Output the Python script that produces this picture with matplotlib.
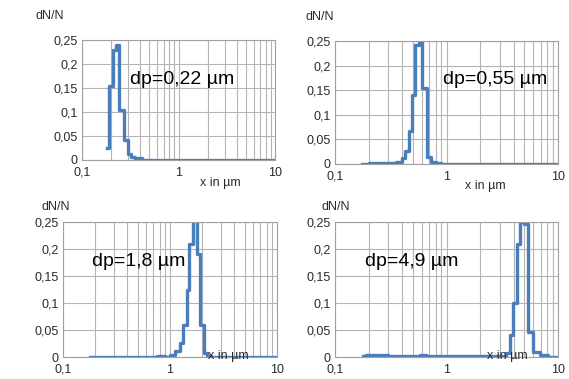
import matplotlib
matplotlib.use("Agg")
import matplotlib.pyplot as plt
from matplotlib.ticker import NullFormatter, LogLocator

plt.rcParams['font.family'] = ['Liberation Sans', 'DejaVu Sans']

# step distributions, x = lower bin edge in um, y = dN/N
x_022 = [0.183, 0.192, 0.208, 0.223, 0.242, 0.274, 0.298, 0.32, 0.35, 0.38, 0.42, 0.5, 10]
y_022 = [0.025, 0.155, 0.23, 0.24, 0.105, 0.042, 0.012, 0.006, 0.002, 0.004, 0.001, 0.0, 0.0]

x_055 = [0.176, 0.2, 0.35, 0.400, 0.422, 0.457, 0.491, 0.517, 0.561, 0.602, 0.667, 0.72, 0.8, 0.9, 10]
y_055 = [0.001, 0.003, 0.005, 0.012, 0.027, 0.067, 0.141, 0.242, 0.27, 0.155, 0.014, 0.005, 0.002, 0.0, 0.0]

x_18 = [0.18, 0.75, 0.9, 1.0, 1.11, 1.24, 1.33, 1.43, 1.52, 1.65, 1.77, 1.91, 2.06, 2.2, 2.4, 10]
y_18 = [0.0, 0.002, 0.0, 0.004, 0.012, 0.026, 0.06, 0.125, 0.21, 0.28, 0.19, 0.06, 0.008, 0.002, 0.0, 0.0]

x_49 = [0.178, 0.19, 0.3, 0.58, 0.65, 3.45, 3.69, 3.95, 4.29, 4.6, 5.0, 5.38, 5.96, 6.84, 8.07, 10]
y_49 = [0.001, 0.003, 0.001, 0.003, 0.001, 0.008, 0.04, 0.10, 0.21, 0.25, 0.247, 0.047, 0.01, 0.003, 0.0, 0.0]

labels = ["dp=0,22 µm", "dp=0,55 µm", "dp=1,8 µm", "dp=4,9 µm"]
yticks = [0, 0.05, 0.1, 0.15, 0.2, 0.25]
yticklabels = ["0", "0,05", "0,1", "0,15", "0,2", "0,25"]
xticks = [0.1, 1, 10]
xticklabels = ["0,1", "1", "10"]

W, H = 569, 379
fig = plt.figure(figsize=(W / 100, H / 100), dpi=100)

def px_axes(left, right, top, bottom):
    return fig.add_axes([left / W, 1 - bottom / H, (right - left) / W, (bottom - top) / H])

# panel boxes in pixels (left, right, top, bottom)
boxes = [(82, 275, 40, 160), (335, 558, 41, 164), (63, 277, 222, 357), (335, 558, 222, 357)]
series = [(x_022, y_022), (x_055, y_055), (x_18, y_18), (x_49, y_49)]
text_pos = [(0.249, 0.667), (0.486, 0.683), (0.134, 0.707), (0.135, 0.707)]
dn_pos = [(36, 16), (306, 17), (42, 207), (322, 207)]
xlab_pos = [(200, 183), (465, 186), (208, 356), (487, 356)]

grid_col = '#b4b4b4'
line_col = '#4a7ebb'

for i in range(4):
    ax = px_axes(*boxes[i])
    xs, ys = series[i]
    ax.plot(xs, ys, drawstyle='steps-post', color=line_col, lw=2.4, solid_joinstyle='round')
    ax.set_xscale('log')
    ax.set_xlim(0.1, 10)
    ax.set_ylim(0, 0.25)
    ax.set_xticks(xticks, labels=xticklabels)
    ax.xaxis.set_minor_locator(LogLocator(base=10, subs=range(2, 10)))
    ax.xaxis.set_minor_formatter(NullFormatter())
    ax.set_yticks(yticks, labels=yticklabels)
    ax.tick_params(which='both', length=0, labelsize=9, colors='#2b2b2b')
    ax.tick_params(axis='x', pad=5)
    ax.tick_params(axis='y', pad=3)
    ax.grid(which='both', axis='x', color=grid_col, lw=0.8)
    ax.grid(which='major', axis='y', color=grid_col, lw=0.8)
    ax.set_axisbelow(True)
    for s in ax.spines.values():
        s.set_color('#a0a0a0')
        s.set_linewidth(0.8)
    ax.text(text_pos[i][0], text_pos[i][1], labels[i], transform=ax.transAxes,
            ha='left', va='center', fontsize=14, color='black')

    fig.text(dn_pos[i][0] / W, 1 - dn_pos[i][1] / H, "dN/N", ha='left', va='center',
             fontsize=9, color='#2b2b2b')
    fig.text(xlab_pos[i][0] / W, 1 - xlab_pos[i][1] / H, "x in µm", ha='left', va='center',
             fontsize=9, color='#2b2b2b')

fig.savefig("out.png", dpi=100)
